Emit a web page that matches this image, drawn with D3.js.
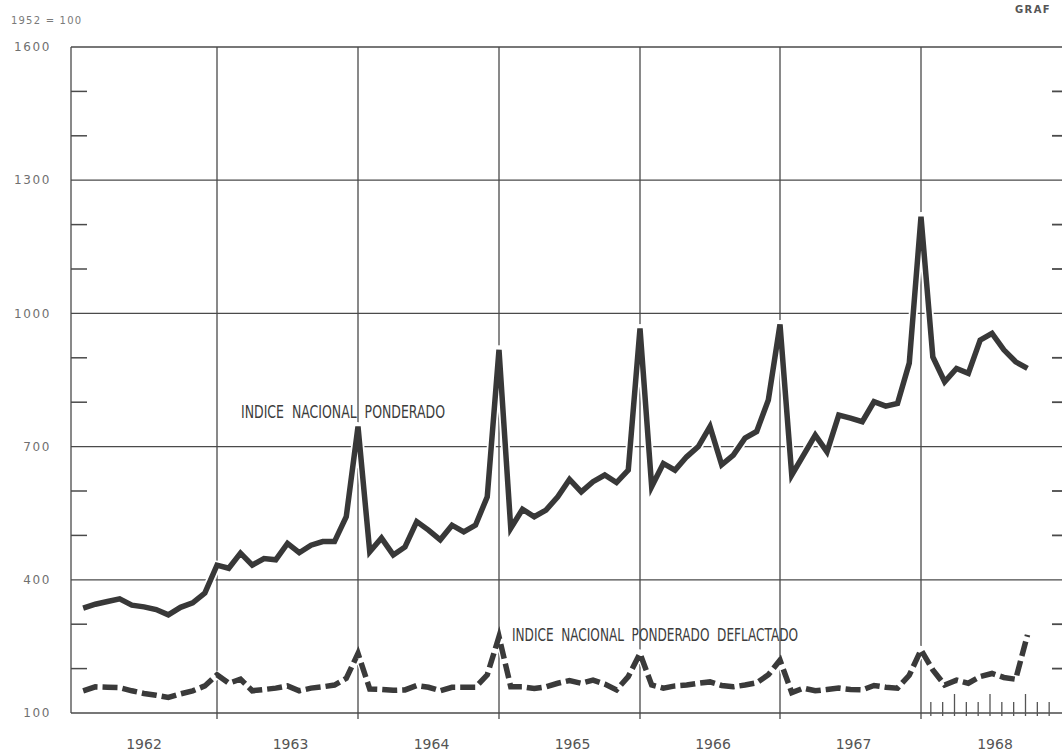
<!DOCTYPE html>
<html>
<head>
<meta charset="utf-8">
<script src="https://cdn.jsdelivr.net/npm/d3@7"></script>
<style>
  html, body { margin: 0; padding: 0; background: #fff; overflow: hidden; }
  svg { display: block; }
</style>
</head>
<body>
<svg id="chart" width="1062" height="756"></svg>
<script>
// ---- data (monthly, Jan 1962 – Sep 1968) ----
const years = [1962, 1963, 1964, 1965, 1966, 1967, 1968];
const yearLabels = ["1962", "1963", "1964", "1965", "1966", "1967", "1968"];
const yTickValues = [100, 400, 700, 1000, 1300, 1600];
const yMinorValues = [200, 300, 500, 600, 800, 900, 1100, 1200, 1400, 1500];

const indiceNacional = [
  336, 345, 351, 357, 343, 339, 333, 321, 338, 348, 370, 433,   // 1962
  426, 460, 433, 448, 445, 482, 461, 478, 486, 486, 542, 745,   // 1963
  463, 494, 456, 474, 531, 512, 490, 523, 508, 523, 587, 918,   // 1964
  516, 559, 542, 557, 587, 626, 598, 621, 636, 619, 647, 966,   // 1965
  610, 662, 647, 677, 700, 745, 659, 681, 719, 734, 805, 975,   // 1966
  636, 681, 726, 688, 771, 764, 756, 801, 791, 797, 888, 1218,  // 1967
  902, 846, 876, 865, 940, 955, 918, 891, 876                   // 1968
];
const indiceDeflactado = [
  150, 159, 158, 157, 150, 144, 140, 135, 143, 150, 161, 186,   // 1962
  167, 176, 150, 153, 156, 161, 150, 156, 159, 163, 178, 234,   // 1963
  154, 153, 151, 152, 162, 158, 150, 158, 158, 158, 186, 272,   // 1964
  159, 159, 155, 159, 167, 173, 167, 174, 165, 152, 182, 234,   // 1965
  163, 156, 161, 163, 167, 170, 162, 159, 163, 168, 186, 219,   // 1966
  146, 156, 150, 153, 156, 153, 152, 162, 158, 156, 185, 242,   // 1967
  197, 163, 174, 167, 182, 189, 180, 176, 276                   // 1968
];
const monthTicks1968 = [1, 2, 3, 4, 5, 6, 7, 8, 9, 10, 11];

const labelMain = "INDICE  NACIONAL  PONDERADO";
const labelDefl = "INDICE  NACIONAL  PONDERADO  DEFLACTADO";
const cornerLabel = "GRAF";

// ---- layout ----
const svg = d3.select("#chart");
const plotTop = 47, plotBottom = 713, plotLeft = 71, plotRight = 1063;

// time value t = year + month/12 (a December point sits on the year boundary)
const x = d3.scaleLinear()
  .domain([1962, 1963, 1964, 1965, 1966, 1967, 1968, 1969])
  .range([plotLeft, 217, 358, 499, 640, 780, 921, plotRight]);
const y = d3.scaleLinear().domain([100, 1600]).range([plotBottom, plotTop]);

const toPoints = arr => arr.map((v, i) => ({ t: 1962 + (i + 1) / 12, v }));
const mainPts = toPoints(indiceNacional);
const deflPts = toPoints(indiceDeflactado);

const gridColor = "#4a4a4a";
const g = svg.append("g");

// horizontal grid lines (major)
g.selectAll("line.hgrid").data(yTickValues).join("line")
  .attr("x1", plotLeft).attr("x2", plotRight)
  .attr("y1", d => y(d)).attr("y2", d => y(d))
  .attr("stroke", gridColor).attr("stroke-width", 1.3);

// vertical year boundaries
g.selectAll("line.vgrid").data(years.concat([1969])).join("line")
  .attr("x1", d => x(d)).attr("x2", d => x(d))
  .attr("y1", plotTop).attr("y2", d => d === 1962 ? plotBottom : plotBottom + 6)
  .attr("stroke", gridColor).attr("stroke-width", 1.3);

// minor ticks on left and right
g.selectAll("line.minorL").data(yMinorValues).join("line")
  .attr("x1", plotLeft).attr("x2", plotLeft + 16)
  .attr("y1", d => y(d)).attr("y2", d => y(d))
  .attr("stroke", gridColor).attr("stroke-width", 1.5);
g.selectAll("line.minorR").data(yMinorValues).join("line")
  .attr("x1", plotRight - 11).attr("x2", plotRight)
  .attr("y1", d => y(d)).attr("y2", d => y(d))
  .attr("stroke", gridColor).attr("stroke-width", 1.8);

// monthly ticks along the bottom for 1968
g.selectAll("line.mtick").data(monthTicks1968).join("line")
  .attr("x1", d => x(1968 + d / 12) - 2).attr("x2", d => x(1968 + d / 12) - 2)
  .attr("y1", plotBottom + 3).attr("y2", d => plotBottom + 3 - (d % 3 === 0 ? 22 : 14))
  .attr("stroke", "#555").attr("stroke-width", 1.3);

// y labels
svg.selectAll("text.ylab").data(yTickValues).join("text")
  .attr("x", 51).attr("y", d => y(d)).attr("dy", "0.35em")
  .attr("text-anchor", "end")
  .attr("font-family", "DejaVu Sans, sans-serif")
  .attr("font-size", 12).attr("letter-spacing", 1.6)
  .attr("fill", "#707070")
  .text(d => String(d));

svg.append("text").attr("x", 11).attr("y", 20).attr("dy", "0.35em")
  .attr("font-family", "DejaVu Sans, sans-serif")
  .attr("font-size", 10).attr("letter-spacing", 1.2)
  .attr("fill", "#7a7a7a").text("1952 = 100");

svg.append("text").attr("x", 1015).attr("y", 9).attr("dy", "0.35em")
  .attr("font-family", "DejaVu Sans, sans-serif").attr("font-weight", "bold")
  .attr("font-size", 10).attr("letter-spacing", 1.4)
  .attr("fill", "#555").text(cornerLabel);

// year labels, centred in each year
svg.selectAll("text.xlab").data(years).join("text")
  .attr("x", (d, i) => (x(d) + x(d + 1)) / 2 + (i === 0 ? 0 : 3))
  .attr("y", 744).attr("dy", "0.35em")
  .attr("text-anchor", "middle")
  .attr("font-family", "DejaVu Sans, sans-serif")
  .attr("font-size", 14)
  .attr("fill", "#555")
  .text((d, i) => yearLabels[i]);

// lines
const line = d3.line().x(d => x(d.t)).y(d => y(d.v)).curve(d3.curveLinear);

// white halos (break grid lines where the series cross them)
svg.append("path").attr("d", line(mainPts))
  .attr("fill", "none").attr("stroke", "#fff").attr("stroke-width", 9)
  .attr("stroke-linejoin", "round");
svg.append("path").attr("d", line(deflPts))
  .attr("fill", "none").attr("stroke", "#fff").attr("stroke-width", 8)
  .attr("stroke-linejoin", "round");

svg.append("path").attr("d", line(mainPts))
  .attr("fill", "none").attr("stroke", "#383838").attr("stroke-width", 5.5)
  .attr("stroke-linejoin", "miter").attr("stroke-miterlimit", 4);

svg.append("path").attr("d", line(deflPts))
  .attr("fill", "none").attr("stroke", "#3a3a3a").attr("stroke-width", 5.5)
  .attr("stroke-dasharray", "15,5")
  .attr("stroke-linejoin", "miter").attr("stroke-miterlimit", 4);

// series labels
const condensed = "'Liberation Sans Narrow', 'DejaVu Sans Condensed', 'Arial Narrow', sans-serif";
svg.append("text").attr("x", 241).attr("y", 412).attr("dy", "0.35em")
  .attr("font-family", condensed).attr("font-size", 17)
  .attr("textLength", 204).attr("lengthAdjust", "spacingAndGlyphs")
  .attr("fill", "#3c3c3c").attr("xml:space", "preserve")
  .text(labelMain);
svg.append("text").attr("x", 512).attr("y", 635).attr("dy", "0.35em")
  .attr("font-family", condensed).attr("font-size", 17)
  .attr("textLength", 286).attr("lengthAdjust", "spacingAndGlyphs")
  .attr("fill", "#3c3c3c").attr("xml:space", "preserve")
  .text(labelDefl);
</script>
</body>
</html>
